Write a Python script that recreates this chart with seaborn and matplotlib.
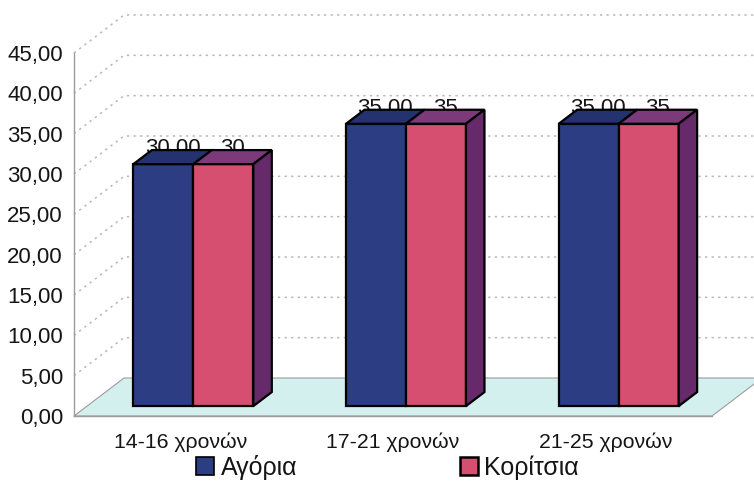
import matplotlib
matplotlib.use("Agg")
import matplotlib.pyplot as plt
from matplotlib.patches import Polygon, Patch
from matplotlib.ticker import FixedLocator
import seaborn as sns
import pandas as pd

# ---- data ----
categories = ["14-16 χρονών", "17-21 χρονών", "21-25 χρονών"]
series = ["Αγόρια", "Κορίτσια"]
boys = [30, 35, 35]
girls = [30, 35, 35]
y_ticks = [0, 5, 10, 15, 20, 25, 30, 35, 40, 45]

df = pd.DataFrame({
    "age": categories * 2,
    "value": boys + girls,
    "group": [series[0]] * len(categories) + [series[1]] * len(categories),
})

# ---- style ----
sns.set_style("white")
plt.rcParams["font.family"] = ["Liberation Sans", "DejaVu Sans"]

FRONT = ["#2c3d84", "#d64f70"]
TOP = ["#243270", "#7c3a7a"]
SIDE = "#66296a"
FLOOR = "#d3efee"
GRID = "#b8b8b8"
AXIS = "#9c9c9c"
TEXT = "#151515"

W, H = 754, 496
fig = plt.figure(figsize=(W / 100, H / 100), dpi=100)
fig.patch.set_facecolor("white")
ax = fig.add_axes([74 / W, (H - 416) / H, (712 - 74) / W, (416 - 53) / H])

sns.barplot(data=df, x="age", y="value", hue="group", palette=FRONT,
            width=0.564, saturation=1, edgecolor="black", linewidth=1.6,
            legend=False, ax=ax, zorder=4)

ax.set_xlim(-0.5, 2.5)
ax.set_ylim(0, 45)

# 3D projection: depth vector of the whole floor, in data units
px_x = (712 - 74) / 3.0
px_y = (416 - 53) / 45.0
Dx, Dy = 50 / px_x, 38 / px_y
z_front, z_depth = 0.26, 0.37
fx, fy = Dx * z_front, Dy * z_front
dx, dy = Dx * z_depth, Dy * z_depth

# floor
x_far = 2.5 + Dx + 0.5
floor = Polygon([(-0.5, 0), (2.5, 0), (2.5 + Dx, Dy), (x_far, Dy),
                 (-0.5 + Dx, Dy)], closed=True, facecolor=FLOOR,
                edgecolor=AXIS, linewidth=0.8, zorder=1, clip_on=False)
ax.add_patch(floor)

# back-wall gridlines with their diagonal run to the value axis
for v in y_ticks[1:]:
    ax.plot([-0.5, -0.5 + Dx, x_far], [v, v + Dy, v + Dy], color=GRID,
            linestyle=(0, (1.5, 2.8)), linewidth=1.1, zorder=0.5, clip_on=False)

# lift the bar fronts into the floor depth and add top / side faces
for hi, cont in enumerate(ax.containers):
    vals = boys if hi == 0 else girls
    for p, v in zip(cont.patches, vals):
        x0 = p.get_x() + fx
        w = p.get_width()
        h = p.get_height()
        p.set_x(x0)
        p.set_y(fy)
        p.set_clip_on(False)
        top = Polygon([(x0, fy + h), (x0 + w, fy + h), (x0 + w + dx, fy + h + dy),
                       (x0 + dx, fy + h + dy)], closed=True, facecolor=TOP[hi],
                      edgecolor="black", linewidth=1.6, zorder=4, clip_on=False)
        ax.add_patch(top)
        if hi == 1:
            side = Polygon([(x0 + w, fy), (x0 + w + dx, fy + dy),
                            (x0 + w + dx, fy + h + dy), (x0 + w, fy + h)],
                           closed=True, facecolor=SIDE, edgecolor="black",
                           linewidth=1.6, zorder=4, clip_on=False)
            ax.add_patch(side)
        label = f"{v:.2f}".replace(".", ",") if hi == 0 else f"{v}"
        ax.text(x0 + w / 2 + dx / 2, v + fy + dy + 0.15, label, ha="center",
                va="center", fontsize=16, color=TEXT, zorder=3)

# axes frame
for s in ["top", "right"]:
    ax.spines[s].set_visible(False)
ax.spines["left"].set_color(AXIS)
ax.spines["bottom"].set_color(AXIS)
ax.spines["left"].set_linewidth(1.0)
ax.spines["bottom"].set_linewidth(1.0)
ax.spines["bottom"].set_zorder(2)

ax.set_yticks(y_ticks)
ax.set_yticklabels([f"{t:.2f}".replace(".", ",") for t in y_ticks])
ax.tick_params(axis="y", length=5, width=1, color=AXIS, pad=3.0,
               labelsize=16, labelcolor=TEXT)
ax.set_xticks(range(len(categories)))
ax.set_xticklabels(categories)
ax.xaxis.set_minor_locator(FixedLocator([-0.5, 0.5, 1.5, 2.5]))
ax.tick_params(axis="x", which="major", length=0, pad=12, labelsize=15.3,
               labelcolor=TEXT)
ax.tick_params(axis="x", which="minor", length=6, width=1, color=AXIS)
ax.set_xlabel("")
ax.set_ylabel("")
ax.patch.set_alpha(0)

# legend
handles = [Patch(facecolor=FRONT[0], edgecolor="black", linewidth=1.2, label=series[0]),
           Patch(facecolor=FRONT[1], edgecolor="black", linewidth=1.8, label=series[1])]
fig.legend(handles=handles, loc="center", bbox_to_anchor=(0.514, 0.058), ncol=2,
           frameon=False, fontsize=18, handlelength=0.72, handleheight=0.72,
           handletextpad=0.25, columnspacing=6.5, labelcolor=TEXT)

fig.savefig("out.png", dpi=100)
